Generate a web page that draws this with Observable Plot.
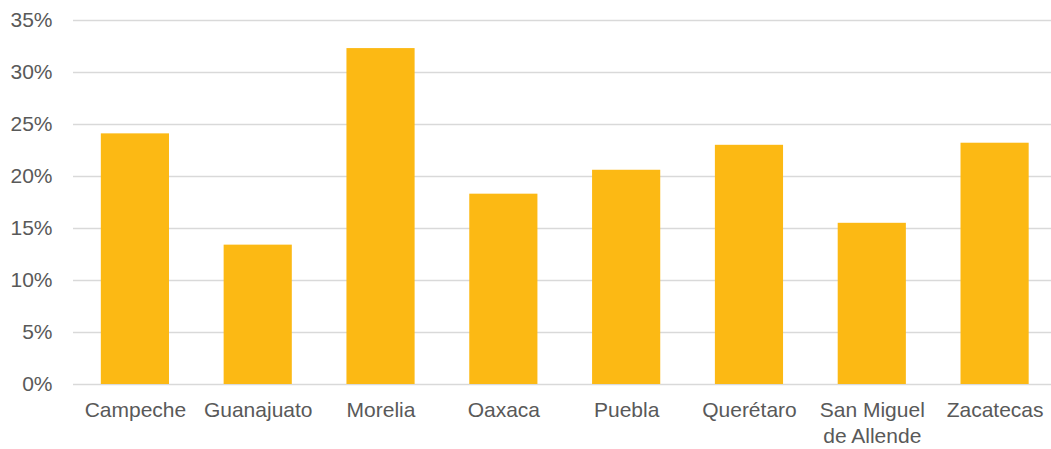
<!DOCTYPE html>
<html>
<head>
<meta charset="utf-8">
<script src="https://cdn.jsdelivr.net/npm/d3@7"></script>
<script src="https://cdn.jsdelivr.net/npm/@observablehq/plot@0.6"></script>
<style>
  html, body { margin: 0; padding: 0; background: #fff; }
  #chart svg { display: block; font-family: "Liberation Sans", Arial, sans-serif; }
</style>
</head>
<body>
<div id="chart"></div>
<script>
const cities = ["Campeche", "Guanajuato", "Morelia", "Oaxaca", "Puebla", "Querétaro", "San Miguel de Allende", "Zacatecas"];
const shares = [0.241, 0.134, 0.323, 0.183, 0.206, 0.230, 0.155, 0.232];
const yTicks = [0, 0.05, 0.10, 0.15, 0.20, 0.25, 0.30, 0.35];
const cityLabels = {"San Miguel de Allende": "San Miguel\nde Allende"};

const data = cities.map((c, i) => ({city: c, value: shares[i]}));

const chart = Plot.plot({
  width: 1051,
  height: 449,
  marginTop: 20,
  marginBottom: 65,
  marginLeft: 73,
  marginRight: 0,
  style: {fontFamily: "Liberation Sans, Arial, sans-serif", fontSize: "21px", color: "#595959", background: "#fff"},
  x: {domain: cities, range: [73.5, 1056], round: false, paddingInner: 0.445, paddingOuter: 0.2225, label: null},
  y: {domain: [0, 0.35], label: null},
  marks: [
    Plot.ruleY(yTicks, {stroke: "#d9d9d9", strokeWidth: 1.6}),
    Plot.barY(data, {x: "city", y: "value", fill: "#FCB914"}),
    Plot.axisY(yTicks, {tickSize: 0, tickPadding: 21, tickFormat: d3.format(".0%"), fontSize: 21, fill: "#595959", label: null}),
    Plot.axisX({tickSize: 0, tickPadding: 15, tickFormat: d => cityLabels[d] ?? d, fontSize: 21, fill: "#595959", lineHeight: 1.2, label: null})
  ]
});
document.getElementById("chart").appendChild(chart);
</script>
</body>
</html>
